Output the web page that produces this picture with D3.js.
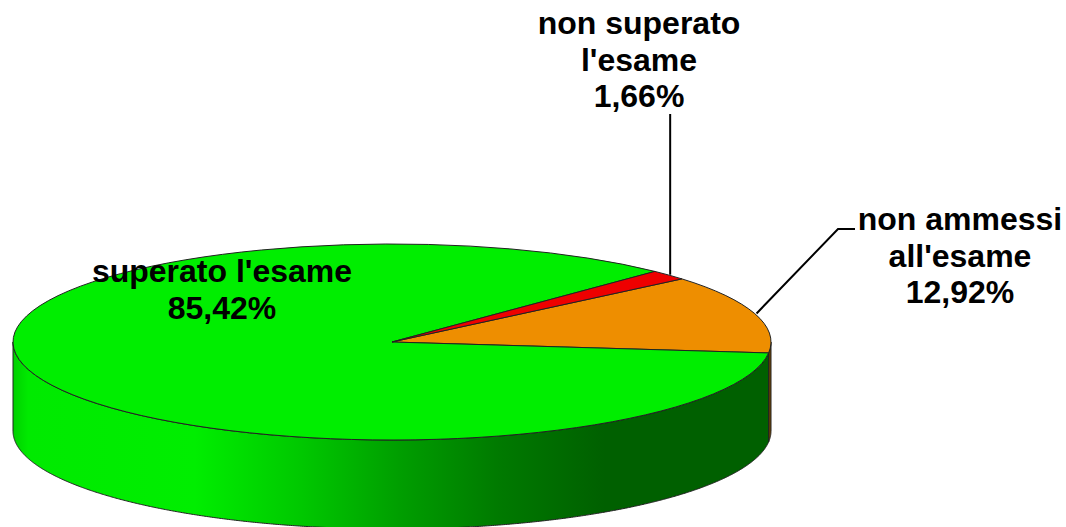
<!DOCTYPE html>
<html>
<head>
<meta charset="utf-8">
<script src="https://cdn.jsdelivr.net/npm/d3@7"></script>
<style>
html, body { margin: 0; padding: 0; background: #fff; overflow: hidden; }
svg { display: block; }
text { font-family: "Liberation Sans", Arial, sans-serif; font-weight: bold; font-size: 32px; fill: #000; text-anchor: middle; }
</style>
</head>
<body>
<div id="target"></div>
<script>
// data
const categories = ["non ammessi all'esame", "superato l'esame", "non superato l'esame"]
const values = [12.92, 85.42, 1.66]
const valueLabels = ["12,92%", "85,42%", "1,66%"]
const labelLines = [["non ammessi", "all'esame"], ["superato l'esame"], ["non superato", "l'esame"]]
const colors = ["#EE8E00", "#00EE00", "#EE0000"]

const width = 1066, height = 527
const cx = 392, cy = 342, rx = 379, ry = 98, depth = 89
const firstAngle = 49.9 * Math.PI / 180

const svg = d3.select("#target").append("svg")
    .attr("width", width)
    .attr("height", height)

const pie = d3.pie().sort(null).startAngle(firstAngle).endAngle(firstAngle + 2 * Math.PI)
const slices = pie(values)

//Gradients for the rim
const defs = svg.append("defs")
const grad = defs.append("linearGradient")
    .attr("id", "rimGreen")
    .attr("gradientUnits", "userSpaceOnUse")
    .attr("x1", cx - rx).attr("x2", cx + rx).attr("y1", 0).attr("y2", 0)
grad.selectAll("stop")
    .data([[0, "#00D000"], [0.02, "#00EA00"], [0.24, "#00EE00"], [0.38, "#00C800"], [0.51, "#009E00"], [0.64, "#007A00"], [0.78, "#006000"], [1, "#006000"]])
    .enter().append("stop")
    .attr("offset", d => d[0])
    .attr("stop-color", d => d[1])

//Rim
const px = a => cx + rx * Math.sin(a)
const py = a => cy - ry * Math.cos(a)
const rim = d3.area().x(px).y0(py).y1(a => py(a) + depth)

const rimFill = ["#6E4200", "url(#rimGreen)", "#6E0000"]
slices.forEach((s, i) => {
    // only the front half of the cylinder shows (clock angles 90 to 270 deg)
    const from = Math.max(s.startAngle, Math.PI / 2)
    const to = Math.min(s.endAngle, 3 * Math.PI / 2)
    if (to <= from) return
    const steps = d3.range(from, to, 0.005).concat([to])
    svg.append("path")
        .attr("d", rim(steps))
        .attr("fill", rimFill[i])
        .attr("stroke", "#222")
        .attr("stroke-width", 1)
})

//Top face
const arc = d3.arc().innerRadius(0).outerRadius(rx)
svg.append("g")
    .attr("transform", `translate(${cx},${cy}) scale(1,${ry / rx})`)
    .selectAll("path")
    .data(slices)
    .enter().append("path")
    .attr("d", arc)
    .attr("fill", (d, i) => colors[i])
    .attr("stroke", "#222")
    .attr("stroke-width", 1)
    .attr("vector-effect", "non-scaling-stroke")

//Leader lines
const mid = s => (s.startAngle + s.endAngle) / 2
const anchor = s => [cx + rx * 1.005 * Math.sin(mid(s)), cy - ry * 1.005 * Math.cos(mid(s))]

const [ax, ay] = anchor(slices[0])
const [rx0, ry0] = anchor(slices[2])
const leader = d3.line()
svg.append("path")
    .attr("d", leader([[ax, ay], [838, 229], [855, 229]]))
    .attr("fill", "none").attr("stroke", "#000").attr("stroke-width", 2)
svg.append("path")
    .attr("d", leader([[rx0, ry0], [rx0, 114]]))
    .attr("fill", "none").attr("stroke", "#000").attr("stroke-width", 2)

//Labels
const labelPos = [[960, 230], [222, 282], [639, 34]]
categories.forEach((c, i) => {
    const t = svg.append("text")
        .attr("x", labelPos[i][0])
        .attr("y", labelPos[i][1])
    labelLines[i].concat([valueLabels[i]]).forEach((line, j) => {
        t.append("tspan")
            .attr("x", labelPos[i][0])
            .attr("dy", j ? 36.5 : 0)
            .text(line)
    })
})
</script>
</body>
</html>
